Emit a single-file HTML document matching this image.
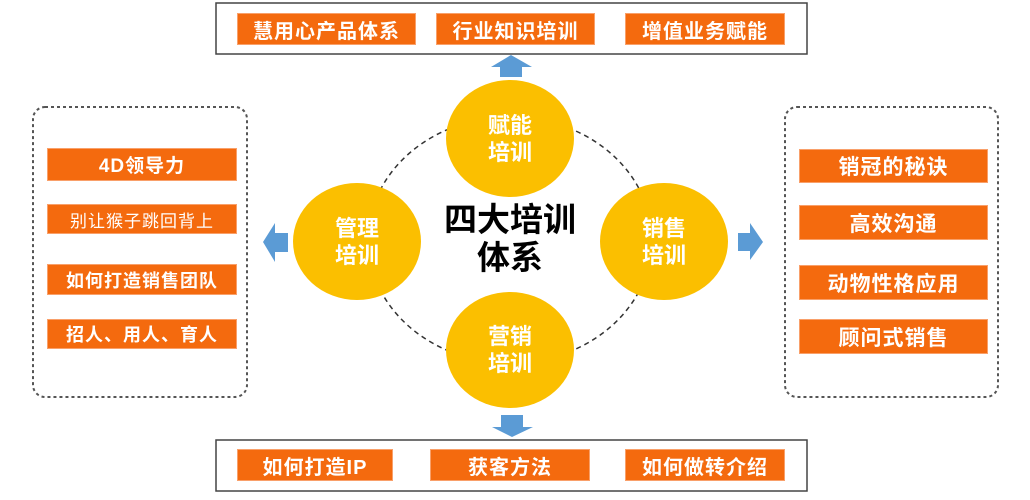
<!DOCTYPE html>
<html><head><meta charset="utf-8"><style>
body{margin:0;width:1030px;height:500px;background:#fff;position:relative;overflow:hidden;font-family:"Liberation Sans","Noto Sans CJK SC",sans-serif;}
.b{position:absolute;background:#F46A0E;border:1px solid #F9A06A;box-sizing:border-box;color:#fff;font-weight:bold;font-size:20px;display:flex;align-items:center;justify-content:center;letter-spacing:1px;}
.box{position:absolute;box-sizing:border-box;}
.c{position:absolute;border-radius:50%;background:#FBBF00;color:#fff;font-weight:bold;font-size:22px;line-height:27px;display:flex;align-items:center;justify-content:center;text-align:center;}
</style></head><body>
<svg width="1030" height="500" style="position:absolute;left:0;top:0">
<ellipse cx="510" cy="240" rx="142" ry="123" fill="none" stroke="#333" stroke-width="1.5" stroke-dasharray="5,4"/>
<rect x="216" y="3" width="591" height="51" fill="none" stroke="#444" stroke-width="1.5"/>
<rect x="216" y="440" width="591" height="51" fill="none" stroke="#444" stroke-width="1.5"/>
<rect x="33" y="107" width="214" height="290" rx="12" fill="none" stroke="#555" stroke-width="2" stroke-dasharray="3,3"/>
<rect x="785" y="107" width="213" height="290" rx="12" fill="none" stroke="#555" stroke-width="2" stroke-dasharray="3,3"/>
<polygon points="511,55 532,67 522,67 522,77 500,77 500,67 491,67" fill="#5B9BD5"/>
<polygon points="501,415 523,415 523,427 533,427 512,437 492,427 501,427" fill="#5B9BD5"/>
<polygon points="263,242 275,223 275,233 288,233 288,252 275,252 275,262" fill="#5B9BD5"/>
<polygon points="738,233 750,233 750,223 763,242 750,260 750,251 738,251" fill="#5B9BD5"/>
</svg>
<div class="b" style="left:237px;top:13px;width:179px;height:32px">慧用心产品体系</div>
<div class="b" style="left:436px;top:13px;width:159px;height:32px">行业知识培训</div>
<div class="b" style="left:625px;top:13px;width:160px;height:32px">增值业务赋能</div>
<div class="b" style="left:237px;top:449px;width:156px;height:32px">如何打造IP</div>
<div class="b" style="left:430px;top:449px;width:160px;height:32px">获客方法</div>
<div class="b" style="left:625px;top:449px;width:160px;height:32px">如何做转介绍</div>
<div class="b" style="left:47px;top:148px;width:190px;height:33px;font-size:19px">4D领导力</div>
<div class="b" style="left:47px;top:204px;width:190px;height:30px;font-size:17px;font-weight:normal">别让猴子跳回背上</div>
<div class="b" style="left:47px;top:264px;width:190px;height:31px;font-size:18px">如何打造销售团队</div>
<div class="b" style="left:47px;top:319px;width:190px;height:30px;font-size:18px">招人、用人、育人</div>
<div class="b" style="left:799px;top:149px;width:189px;height:34px;font-size:21px">销冠的秘诀</div>
<div class="b" style="left:799px;top:205px;width:189px;height:35px;font-size:21px">高效沟通</div>
<div class="b" style="left:799px;top:265px;width:189px;height:35px;font-size:21px">动物性格应用</div>
<div class="b" style="left:799px;top:319px;width:189px;height:35px;font-size:21px">顾问式销售</div>
<div class="c" style="left:446px;top:80px;width:128px;height:117px">赋能<br>培训</div>
<div class="c" style="left:293px;top:183px;width:128px;height:117px">管理<br>培训</div>
<div class="c" style="left:600px;top:183px;width:128px;height:117px">销售<br>培训</div>
<div class="c" style="left:446px;top:292px;width:128px;height:116px">营销<br>培训</div>
<div style="position:absolute;left:430px;top:201px;width:160px;text-align:center;font-size:33px;font-weight:bold;line-height:38px;color:#000">四大培训<br>体系</div>
</body></html>
